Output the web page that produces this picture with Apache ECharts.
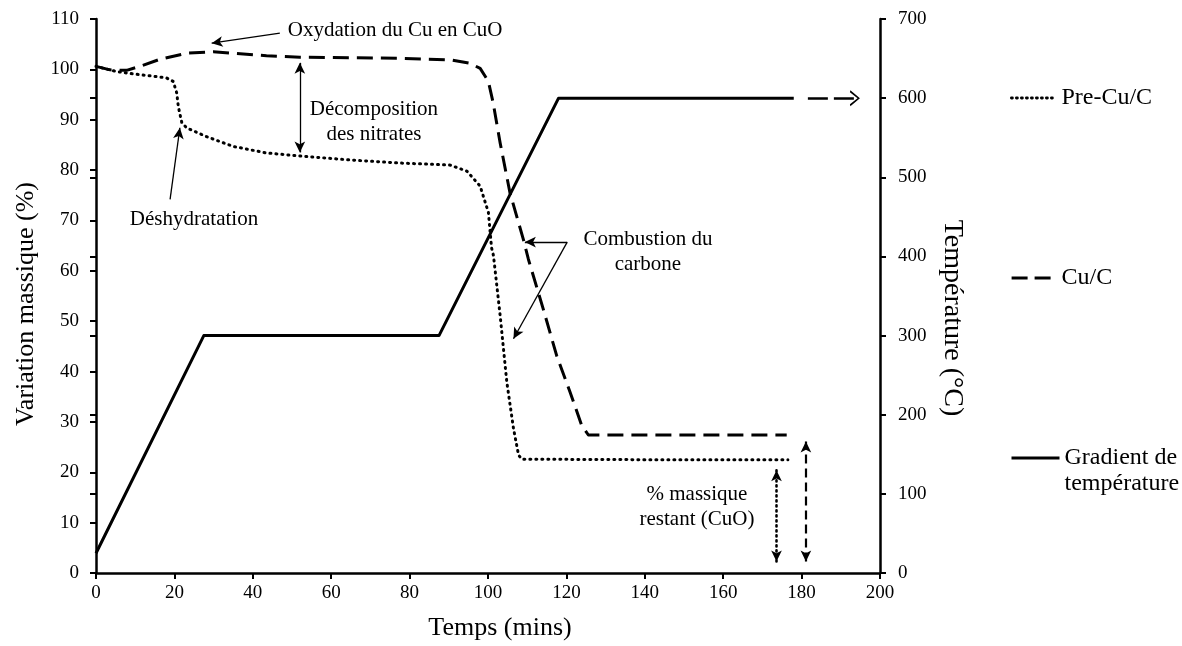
<!DOCTYPE html>
<html><head><meta charset="utf-8">
<script src="https://cdn.jsdelivr.net/npm/echarts@6/dist/echarts.min.js"></script>
<style>html,body{margin:0;padding:0;background:#fff}#c{width:1182px;height:646px}</style>
</head><body><div id="c"></div>
<script>
// ---- data (time in minutes) ----
const tempTimes  = [0, 27.5, 87.5, 118, 178];
const tempValues = [25, 300, 300, 600, 600];

const preTimes  = [0, 5, 9.5, 15, 18, 19.7, 20.6, 21, 21.9, 23.1, 28, 35, 43.5, 52, 65, 77.5, 90.3, 94.6, 98, 100.1, 100.9, 101.4, 103.1, 104.8, 106.5, 107.8, 108.6, 140, 176.5];
const preValues = [100.6, 99.6, 99.1, 98.6, 98.3, 97.6, 95.3, 92.6, 89.4, 88.4, 86.7, 84.7, 83.4, 82.8, 82.0, 81.4, 81.0, 79.8, 76.8, 71.6, 64.6, 63.0, 51.1, 37.9, 28.7, 23.4, 22.6, 22.5, 22.5];

const cuTimes  = [0, 3.6, 7.8, 11.2, 16.3, 23.1, 29.9, 35, 43.5, 52, 77.5, 90.3, 95.4, 98, 100.1, 101.3, 103.1, 105.6, 109, 110.3, 114.1, 117.5, 120.9, 123.9, 125.6, 150, 176.2];
const cuValues = [100.6, 99.9, 99.8, 100.6, 102.0, 103.2, 103.5, 103.2, 102.7, 102.4, 102.2, 101.9, 101.2, 100.2, 97.6, 93.4, 85.4, 75.5, 66.3, 62.3, 52.4, 43.2, 36.0, 29.3, 27.4, 27.4, 27.4];

const seriesNames = ['Pre-Cu/C', 'Cu/C', 'Gradient de température'];

// annotations (data coordinates: minutes, %)
const noteLabels = ['Oxydation du Cu en CuO', 'Décomposition\ndes nitrates', 'Déshydratation', 'Combustion du\ncarbone', '% massique\nrestant (CuO)'];
const notePos = [[76.3, 107.8], [70.9, 89.5], [25.0, 70.2], [140.8, 63.8], [153.3, 13.1]];
const arrowFrom = [[46.9, 107.2], [18.9, 74.2], [52.0, 83.5], [120.2, 65.7], [120.2, 65.7], [173.6, 2.3], [181.1, 2.3]];
const arrowTo   = [[29.5, 105.2], [21.4, 88.4], [52.0, 101.3], [109.4, 65.7], [106.5, 46.5], [173.6, 20.4], [181.1, 26.1]];
const arrowBoth = [false, false, true, false, false, true, true];
const arrowKind = ['thin', 'thin', 'thin', 'thin', 'thin', 'dotted', 'dashed'];
const tempArrow = [[181.6, 600], [193.6, 600]];

const FONT = "'Liberation Serif', 'Times New Roman', serif";
const zip = (xs, ys) => xs.map((x, i) => [x, ys[i]]);

const kindStyle = {
  thin:   {color: '#000', width: 1.3, type: 'solid'},
  dotted: {color: '#000', width: 2.6, type: [1, 4], cap: 'round'},
  dashed: {color: '#000', width: 2.2, type: [9, 5]}
};

const arrowLines = arrowFrom.map((f, i) => [
  {coord: f, symbol: arrowBoth[i] ? 'arrow' : 'none', symbolSize: [8, 11], lineStyle: kindStyle[arrowKind[i]]},
  {coord: arrowTo[i], symbol: 'arrow', symbolSize: [8, 11]}
]);

const chevron = 'path://M0,20 L10,0 L20,20 L17.5,21 L10,5 L2.5,21 Z';

const chart = echarts.init(document.getElementById('c'), null, {renderer: 'canvas'});

const axisText = {color: '#000', fontFamily: FONT, fontSize: 19};
const legendText = {color: '#000', fontFamily: FONT, fontSize: 24, lineHeight: 26};
const legendLine = {
  'Pre-Cu/C': {color: '#000', width: 2.8, type: [1, 4], cap: 'round'},
  'Cu/C': {color: '#000', width: 3.2, type: [16, 7]},
  'Gradient de température': {color: '#000', width: 3, type: 'solid'}
};

function legendFor(name, top) {
  return {
    data: [name], orient: 'vertical', left: 1010, top: top, padding: 0,
    itemWidth: name === 'Gradient de température' ? 48 : 45, itemHeight: 14, itemGap: 0, selectedMode: false,
    textStyle: legendText,
    lineStyle: legendLine[name],
    itemStyle: {color: 'rgba(0,0,0,0)', borderWidth: 0, opacity: 0},
    formatter: n => n === 'Gradient de température' ? '\nGradient de\ntempérature' : n
  };
}

chart.setOption({
  animation: false,
  backgroundColor: '#fff',
  textStyle: {fontFamily: FONT},
  grid: {left: 96, right: 302, top: 19, bottom: 71, containLabel: false},
  legend: [legendFor('Pre-Cu/C', 85), legendFor('Cu/C', 265), legendFor('Gradient de température', 419)],
  xAxis: {
    type: 'value', min: 0, max: 200, interval: 20,
    name: 'Temps (mins)', nameLocation: 'middle', nameGap: 42,
    nameTextStyle: {color: '#000', fontFamily: FONT, fontSize: 26, padding: [0, 0, 0, 24]},
    axisLine: {onZero: false, lineStyle: {color: '#000', width: 2.5}},
    axisTick: {show: true, length: 6, lineStyle: {color: '#000', width: 2}},
    axisLabel: Object.assign({margin: 11}, axisText),
    splitLine: {show: false}
  },
  yAxis: [
    {
      type: 'value', min: 0, max: 110, interval: 10, position: 'left',
      name: 'Variation massique (%)', nameLocation: 'middle', nameRotate: 90, nameGap: 57,
      nameTextStyle: {color: '#000', fontFamily: FONT, fontSize: 26, padding: [0, 16, 0, 0]},
      axisLine: {show: true, onZero: false, lineStyle: {color: '#000', width: 2.5}},
      axisTick: {show: true, length: 6, lineStyle: {color: '#000', width: 2}},
      axisLabel: Object.assign({margin: 17}, axisText),
      splitLine: {show: false}
    },
    {
      type: 'value', min: 0, max: 700, interval: 100, position: 'right',
      name: 'Température (°C)', nameLocation: 'middle', nameRotate: -90, nameGap: 58,
      nameTextStyle: {color: '#000', fontFamily: FONT, fontSize: 28, padding: [0, 0, 0, 44]},
      axisLine: {show: true, onZero: false, lineStyle: {color: '#000', width: 2.5}},
      axisTick: {show: true, length: 6, lineStyle: {color: '#000', width: 2}},
      axisLabel: Object.assign({margin: 18}, axisText),
      splitLine: {show: false}
    },
    {
      type: 'value', min: 0, max: 700, interval: 100, position: 'right',
      axisLine: {show: false},
      axisTick: {show: true, inside: true, length: 6, lineStyle: {color: '#000', width: 2}},
      axisLabel: {show: false},
      splitLine: {show: false}
    }
  ],
  series: [
    {
      name: seriesNames[0], type: 'line', yAxisIndex: 0, symbol: 'none', showSymbol: false,
      data: zip(preTimes, preValues), z: 3,
      lineStyle: {color: '#000', width: 3, type: [1, 5], cap: 'round', join: 'round'},
      itemStyle: {color: '#000'}
    },
    {
      name: seriesNames[1], type: 'line', yAxisIndex: 0, symbol: 'none', showSymbol: false,
      data: zip(cuTimes, cuValues), z: 3,
      lineStyle: {color: '#000', width: 3, type: [16, 8], join: 'round'},
      itemStyle: {color: '#000'}
    },
    {
      name: seriesNames[2], type: 'line', yAxisIndex: 1, symbol: 'none', showSymbol: false,
      data: zip(tempTimes, tempValues), z: 3,
      lineStyle: {color: '#000', width: 3, join: 'round'},
      itemStyle: {color: '#000'},
      markLine: {
        silent: true, animation: false, label: {show: false},
        symbol: ['none', chevron], symbolSize: [16, 10],
        lineStyle: {color: '#000', width: 2.5, type: [20, 6]},
        emphasis: {disabled: true},
        data: [[{coord: tempArrow[0]}, {coord: tempArrow[1]}]]
      }
    },
    {
      name: 'notes', type: 'scatter', yAxisIndex: 0, symbolSize: 0, silent: true, z: 4,
      itemStyle: {opacity: 1, color: '#000'},
      data: notePos.map((p, i) => ({value: p, label: {formatter: noteLabels[i]}})),
      label: {show: true, position: 'inside', color: '#000', opacity: 1, fontFamily: FONT, fontSize: 21, lineHeight: 25, align: 'center', verticalAlign: 'middle'},
      markLine: {
        silent: true, animation: false, label: {show: false},
        emphasis: {disabled: true},
        itemStyle: {color: '#000'},
        lineStyle: {color: '#000', width: 1.3, type: 'solid'},
        data: arrowLines
      }
    }
  ]
});
</script>
</body></html>
